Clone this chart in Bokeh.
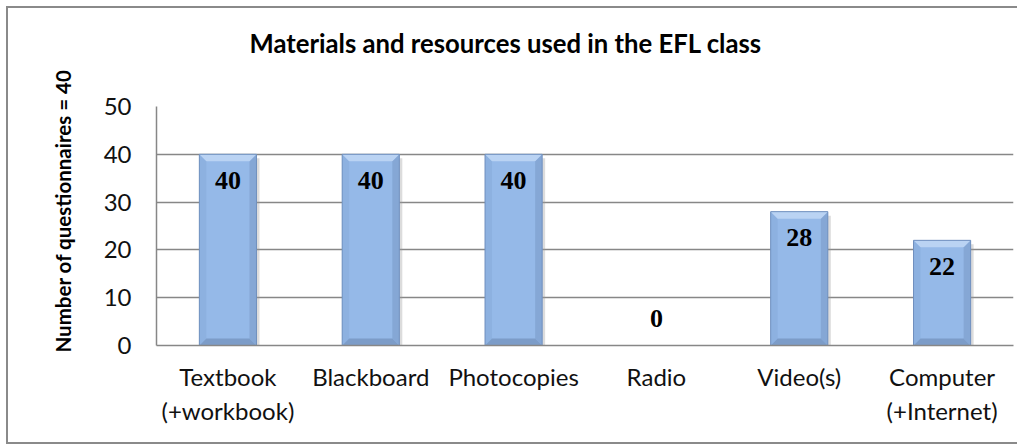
from bokeh.plotting import figure
from bokeh.models import FactorRange, Range1d, Title, FixedTicker
from bokeh.core.properties import value
from bokeh.embed import file_html
from bokeh.resources import INLINE

# ---- data ----
categories = ["Textbook\n(+workbook)", "Blackboard", "Photocopies", "Radio", "Video(s)", "Computer\n(+Internet)"]
counts = [40, 40, 40, 0, 28, 22]
y_ticks = [0, 10, 20, 30, 40, 50]
title_text = "Materials and resources used in the EFL class"
y_label = "Number of questionnaires = 40"

# ---- layout / style ----
W, H = 1017, 444
FL, FR, FT, FB = 156, 1013, 106, 345
Y_MAX = 50
BAR_W = 0.4
BEVEL = 7  # px
GRID = "#878787"

p = figure(width=W, height=H,
           x_range=FactorRange(factors=categories, range_padding=0),
           y_range=Range1d(0, Y_MAX),
           output_backend="svg", toolbar_location=None,
           min_border_left=FL, min_border_right=W - FR,
           min_border_top=FT, min_border_bottom=H - FB)

p.border_fill_color = None
p.background_fill_color = "white"
p.outline_line_color = None
p.styles = {"box-shadow": "inset 6px 0 0 0 white, inset 0 6px 0 0 white, "
                          "inset 8px 0 0 0 #8a8a8a, inset 0 8px 0 0 #8a8a8a, inset 0 -2px 0 0 #8a8a8a"}

px_x = (FR - FL) / len(categories)
px_y = (FB - FT) / Y_MAX
bx = BEVEL / px_x
by = BEVEL / px_y

sh_l, sh_r, sh_t = [], [], []
body_l, body_r, body_t = [], [], []
top_xs, top_ys, bot_xs, bot_ys, lf_xs, lf_ys, rt_xs, rt_ys = [], [], [], [], [], [], [], []
for i, v in enumerate(counts):
    if v <= 0:
        continue
    xc = i + 0.5
    x0, x1 = xc - BAR_W / 2, xc + BAR_W / 2
    sh_l.append(x0 + 3 / px_x); sh_r.append(x1 + 3 / px_x); sh_t.append(v - 4 / px_y)
    body_l.append(x0); body_r.append(x1); body_t.append(v)
    top_xs.append([x0, x1, x1 - bx, x0 + bx]); top_ys.append([v, v, v - by, v - by])
    bot_xs.append([x0, x1, x1 - bx, x0 + bx]); bot_ys.append([0, 0, by, by])
    lf_xs.append([x0, x0, x0 + bx, x0 + bx]); lf_ys.append([0, v, v - by, by])
    rt_xs.append([x1, x1, x1 - bx, x1 - bx]); rt_ys.append([0, v, v - by, by])

p.quad(left=sh_l, right=sh_r, top=sh_t, bottom=[-1] * len(sh_l), fill_color="#9a9a9a",
       fill_alpha=0.35, line_color=None)
p.quad(left=body_l, right=body_r, top=body_t, bottom=[0] * len(body_l),
       fill_color="#95b9e8", line_color=None)
p.patches(lf_xs, lf_ys, fill_color="#8db1e0", line_color=None)
p.patches(rt_xs, rt_ys, fill_color="#85a7d5", line_color=None)
p.patches(bot_xs, bot_ys, fill_color="#7c9cc8", line_color=None)
p.patches(top_xs, top_ys, fill_color="#bad3f3", line_color=None)
p.quad(left=body_l, right=body_r, top=body_t, bottom=[0] * len(body_l),
       fill_color=None, line_color="#7090be", line_width=1)

offsets = [26 if v > 0 else -27 for v in counts]
p.text(x=categories, y=counts, text=[str(v) for v in counts], y_offset=offsets,
       text_align="center", text_baseline="middle",
       text_font=value("Liberation Serif"), text_font_style="bold",
       text_font_size="26px", text_color="black")

# axes
p.yaxis.ticker = FixedTicker(ticks=y_ticks)
p.yaxis.major_tick_out = 0
p.yaxis.major_tick_in = 0
p.yaxis.minor_tick_out = 0
p.yaxis.minor_tick_in = 0
p.yaxis.axis_line_color = GRID
p.yaxis.axis_line_width = 1.5
p.yaxis.major_label_standoff = 25
p.yaxis.major_label_text_font = "Lato"
p.yaxis.major_label_text_font_size = "24px"
p.yaxis.major_label_text_color = "#111111"

p.xaxis.major_tick_out = 0
p.xaxis.major_tick_in = 0
p.xaxis.axis_line_color = GRID
p.xaxis.axis_line_width = 1.5
p.xaxis.major_label_standoff = 16
p.xaxis.major_label_text_font = "Lato"
p.xaxis.major_label_text_font_size = "24px"
p.xaxis.major_label_text_color = "#111111"

p.xgrid.grid_line_color = None
p.ygrid.grid_line_color = GRID
p.ygrid.grid_line_width = 1.5

# title: a blank spacer title next to the frame, the real title outside it
p.title.text = ""
p.add_layout(Title(text=" ", standoff=36, text_font_size="10px"), "above")
p.add_layout(Title(text=title_text, align="left", offset=93, standoff=0, text_font="Lato",
                   text_font_style="bold", text_font_size="25.7px", text_color="black"), "above")

p.add_layout(Title(text=y_label, align="left", offset=-7, standoff=51, text_font="Lato",
                   text_font_style="bold", text_font_size="20.5px", text_color="black"), "left")

open("out.html", "w").write(file_html(p, INLINE))
